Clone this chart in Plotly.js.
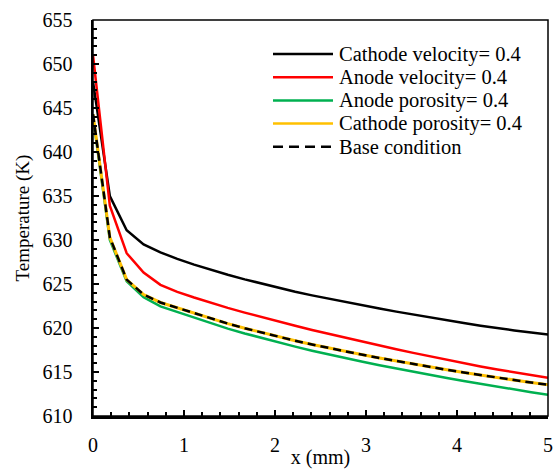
<!DOCTYPE html>
<html>
<head>
<meta charset="utf-8">
<script src="https://cdn.plot.ly/plotly-3.0.1.min.js"></script>
<style>html,body{margin:0;padding:0;background:#fff;}#chart{width:555px;height:469px;}</style>
</head>
<body>
<div id="chart"></div>
<script>
const xPos = [0, 0.185, 0.370, 0.556, 0.741, 0.926, 1.111, 1.296, 1.481, 1.667, 1.852, 2.037, 2.222, 2.407, 2.593, 2.778, 2.963, 3.148, 3.333, 3.519, 3.704, 3.889, 4.074, 4.259, 4.444, 4.630, 4.815, 5.0];
const cathodeVelocity = [648.0, 635.0, 631.1, 629.5, 628.6, 627.85, 627.2, 626.6, 626.05, 625.53, 625.05, 624.55, 624.12, 623.71, 623.32, 622.94, 622.57, 622.21, 621.86, 621.52, 621.19, 620.87, 620.56, 620.26, 619.97, 619.72, 619.48, 619.25];
const anodeVelocity = [651.0, 633.9, 628.5, 626.3, 624.9, 624.1, 623.46, 622.86, 622.29, 621.75, 621.23, 620.73, 620.25, 619.78, 619.32, 618.87, 618.43, 618.0, 617.58, 617.17, 616.77, 616.38, 616.0, 615.63, 615.28, 614.95, 614.64, 614.35];
const anodePorosity = [644.0, 630.0, 625.3, 623.5, 622.45, 621.8, 621.14, 620.52, 619.93, 619.38, 618.86, 618.36, 617.88, 617.42, 616.98, 616.56, 616.16, 615.77, 615.39, 615.02, 614.66, 614.31, 613.97, 613.64, 613.32, 613.01, 612.71, 612.42];
const cathodePorosity = [644.3, 630.3, 625.5, 623.8, 622.9, 622.3, 621.66, 621.06, 620.5, 619.97, 619.47, 619.0, 618.55, 618.12, 617.71, 617.32, 616.95, 616.59, 616.24, 615.9, 615.57, 615.25, 614.94, 614.64, 614.35, 614.07, 613.8, 613.54];
const baseCondition = [644.3, 630.3, 625.5, 623.8, 622.9, 622.3, 621.66, 621.06, 620.5, 619.97, 619.47, 619.0, 618.55, 618.12, 617.71, 617.32, 616.95, 616.59, 616.24, 615.9, 615.57, 615.25, 614.94, 614.64, 614.35, 614.07, 613.8, 613.54];
const seriesNames = ["Cathode velocity= 0.4", "Anode velocity= 0.4", "Anode porosity= 0.4", "Cathode porosity= 0.4", "Base condition"];
const seriesColors = ["#000000", "#FF0000", "#00B050", "#FFC000", "#000000"];
const seriesDash = ["solid", "solid", "solid", "solid", "8px,5px"];
const seriesValues = [cathodeVelocity, anodeVelocity, anodePorosity, cathodePorosity, baseCondition];

const font = "Liberation Serif, Times New Roman, serif";
const traces = seriesValues.map((vals, i) => ({
  x: xPos, y: vals, name: seriesNames[i], mode: "lines", showlegend: false,
  line: {color: seriesColors[i], width: i === 3 ? 3 : 2.5, dash: seriesDash[i]}
}));

// Legend drawn as paper-referenced samples and labels
const plotL = 93, plotW = 455, plotB = 416, plotH = 396;
const px2x = p => (p - plotL) / plotW;
const px2y = p => (plotB - p) / plotH;
const legendRows = [54, 77.2, 100.4, 123.6, 146.8];
const shapes = [{type: "rect", xref: "paper", yref: "paper", x0: 0, x1: 1, y0: 0, y1: 1, line: {color: "#000", width: 1.5}}];
const annotations = [];
seriesNames.forEach((nm, i) => {
  shapes.push({type: "line", xref: "paper", yref: "paper", x0: px2x(273), x1: px2x(333), y0: px2y(legendRows[i]), y1: px2y(legendRows[i]),
    line: {color: seriesColors[i], width: 2.5, dash: i === 4 ? "10px,6px" : "solid"}});
  annotations.push({xref: "paper", yref: "paper", x: px2x(338), y: px2y(legendRows[i]), xanchor: "left", yanchor: "middle",
    text: nm, showarrow: false, font: {family: font, size: 20.5, color: "#000"}, borderpad: 0});
});

const layout = {
  width: 555, height: 469,
  margin: {l: 93, r: 7, t: 20, b: 53},
  paper_bgcolor: "#fff", plot_bgcolor: "#fff",
  font: {family: font, size: 20, color: "#000"},
  showlegend: false,
  xaxis: {
    range: [0, 5], dtick: 1, tick0: 0, showgrid: false, zeroline: false,
    showline: true, linewidth: 2.5, linecolor: "#000",
    ticks: "inside", ticklen: 6, tickwidth: 2, tickcolor: "#000",
    minor: {ticks: "inside", dtick: 0.2, ticklen: 4, tickwidth: 2, tickcolor: "#000", showgrid: false},
    ticklabelstandoff: 9,
    title: {text: "x (mm)", font: {family: font, size: 20}, standoff: 2}
  },
  yaxis: {
    range: [610, 655], dtick: 5, tick0: 610, showgrid: false, zeroline: false,
    showline: true, linewidth: 2.5, linecolor: "#000",
    ticks: "inside", ticklen: 6, tickwidth: 2, tickcolor: "#000",
    minor: {ticks: "inside", dtick: 1, ticklen: 4, tickwidth: 2, tickcolor: "#000", showgrid: false},
    ticklabelstandoff: 14,
    title: {text: "Temperature (K)", font: {family: font, size: 19}, standoff: 8}
  },
  shapes: shapes,
  annotations: annotations
};
Plotly.newPlot("chart", traces, layout, {displayModeBar: false, staticPlot: true});
</script>
</body>
</html>
